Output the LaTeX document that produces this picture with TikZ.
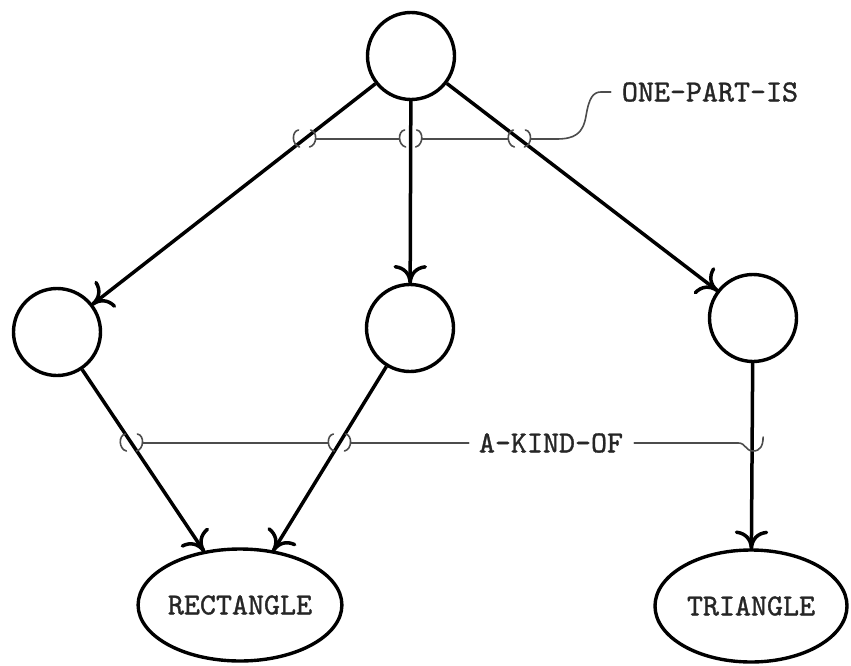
\documentclass[tikz,border=0pt]{standalone}
\usepackage{fontspec}
\usetikzlibrary{shapes.geometric,arrows.meta}

% typewriter face, slightly emboldened
\newfontfamily\typefont{lmmono10-regular.otf}[FakeBold=1.2]

% Open, flared arrow head: the barbs leave the tip close to the shaft
% and curl outward at their ends.
\pgfdeclarearrow{
  name = Tulip,
  setup code = {
    \pgfarrowssettipend{0pt}
    \pgfarrowssetlineend{-1pt}
    \pgfarrowssetbackend{-17pt}
    \pgfarrowshullpoint{0pt}{0pt}
    \pgfarrowshullpoint{-17pt}{16pt}
    \pgfarrowshullpoint{-17pt}{-16pt}
  },
  drawing code = {
    \pgfsetdash{}{0pt}
    \pgfsetroundcap
    \pgfsetroundjoin
    \pgfpathmoveto{\pgfpoint{-16pt}{15pt}}
    \pgfpathcurveto{\pgfpoint{-15pt}{6pt}}{\pgfpoint{-9pt}{0.5pt}}{\pgfpointorigin}
    \pgfpathcurveto{\pgfpoint{-9pt}{-0.5pt}}{\pgfpoint{-15pt}{-6pt}}{\pgfpoint{-16pt}{-15pt}}
    \pgfusepathqstroke
  }
}

\newcommand\labelfont{\typefont\fontsize{30.5}{32}\selectfont}

\begin{document}
\begin{tikzpicture}[x=1pt,y=-1pt,
  frame/.style={circle, draw, line width=3.4pt, minimum size=87pt, inner sep=0pt},
  concept/.style={ellipse, draw, line width=3.4pt, minimum height=112pt,
                  inner sep=0pt, font=\labelfont, text=black!85},
  link/.style={line width=3.5pt, -Tulip},
  thinline/.style={line width=1.6pt, black!70, line cap=round},
  tag/.style={inner sep=0pt, font=\labelfont, text=black!85},
  clasp/.pic={
    \draw[thinline] (-6,-9) .. controls (-13,-8) and (-13,6) .. (-5,8);
    \draw[thinline] (6,-9) .. controls (13,-8) and (13,6) .. (5,8);
  },
  jhook/.pic={
    \draw[thinline] (-14,0) .. controls (-6,0) and (-7,8) .. (1,8)
                    .. controls (8,8) and (11,3) .. (11,-6);
  }
]
\useasboundingbox (0,0) rectangle (851,666);

% frames
\node[frame] (top) at (411,56) {};
\node[frame] (pl) at (57,332) {};
\node[frame] (pm) at (410,328) {};
\node[frame] (pr) at (753,318) {};
\node[concept, minimum width=200pt] (rect) at (240,605) {RECTANGLE};
\node[concept, minimum width=192pt] (tri) at (751,606) {TRIANGLE};

% links between frames
\draw[link] (top) -- (pl);
\draw[link] (top) -- (pm);
\draw[link] (top) -- (pr);
\draw[link] (pl) -- (rect);
\draw[link] (pm) -- (rect);
\draw[link] (pr) -- (tri);

% relation labels
\node[tag] (opi) at (710,92) {ONE-PART-IS};
\node[tag] (ako) at (551,443) {A-KIND-OF};

% levels of the two relation bars
\coordinate (ua) at (0,139);
\coordinate (ub) at (851,139);
\coordinate (da) at (0,443);
\coordinate (db) at (851,443);

\coordinate (c1) at (intersection of top--pl and ua--ub);
\coordinate (c2) at (intersection of top--pm and ua--ub);
\coordinate (c3) at (intersection of top--pr and ua--ub);
\coordinate (c4) at (intersection of pl--rect and da--db);
\coordinate (c5) at (intersection of pm--rect and da--db);
\coordinate (c6) at (intersection of pr--tri and da--db);

% clasps round the links
\pic at (c1) {clasp};
\pic at (c2) {clasp};
\pic at (c3) {clasp};
\pic at (c4) {clasp};
\pic at (c5) {clasp};
\pic at (c6) {jhook};

% ONE-PART-IS bar
\draw[thinline] ([xshift=11pt]c1) -- ([xshift=-11pt]c2);
\draw[thinline] ([xshift=11pt]c2) -- ([xshift=-11pt]c3);
\draw[thinline] ([xshift=11pt]c3) -- ++(26,0)
  .. controls +(18,0) and +(-3,18) .. (586,116)
  .. controls +(3,-18) and +(-8,0) .. (601,92)
  -- ([xshift=-11pt]opi.west);

% A-KIND-OF bar
\draw[thinline] ([xshift=11pt]c4) -- ([xshift=-11pt]c5);
\draw[thinline] ([xshift=11pt]c5) -- ([xshift=-10pt]ako.west);
\draw[thinline] ([xshift=11pt]ako.east) -- ([xshift=-14pt]c6);
\end{tikzpicture}
\end{document}
